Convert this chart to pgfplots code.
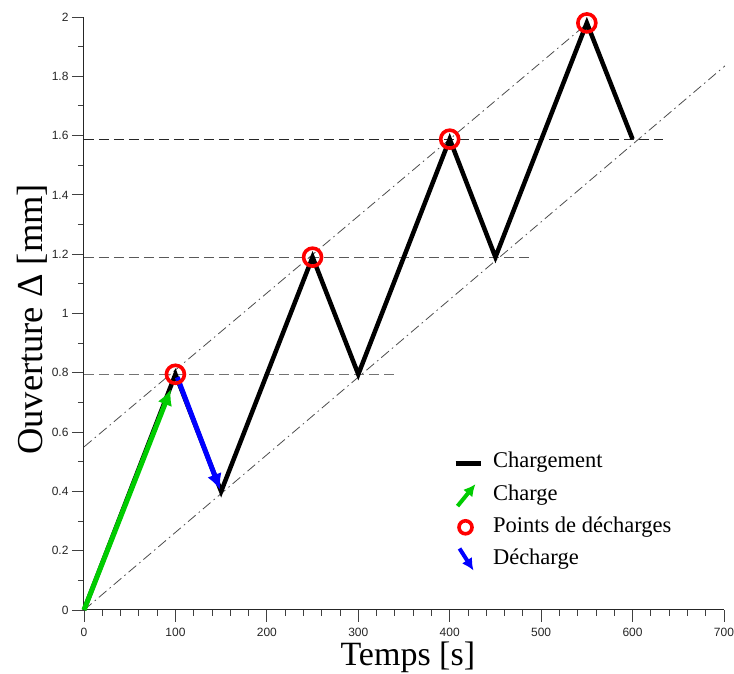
\documentclass[border=0pt]{standalone}
\usepackage{fontspec}
\setmainfont{Liberation Serif}
\setsansfont{Liberation Sans}
\usepackage{pgfplots}
\pgfplotsset{compat=1.18}
\usetikzlibrary{arrows.meta}
\definecolor{cgreen}{RGB}{0,204,0}
\definecolor{cblue}{RGB}{0,0,255}
\definecolor{cred}{RGB}{255,0,0}
\begin{document}
\begin{tikzpicture}[x=1pt,y=1pt]
\path[use as bounding box] (-84,-64) rectangle (650,610);
\begin{axis}[
  scale only axis, width=640pt, height=593pt,
  xmin=0, xmax=700, ymin=0, ymax=2,
  axis x line=bottom, axis y line=left,
  axis line style={-, black!85, line width=1pt},
  xtick={0,100,...,700}, ytick={0,0.2,...,2.01},
  minor x tick num=4, minor y tick num=1,
  tick align=outside,
  major tick length=12pt, minor tick length=6pt,
  tick style={black!75, line width=0.9pt},
  /pgf/number format/assume math mode=true,
  ticklabel style={font=\sffamily\fontsize{12}{12}\selectfont, text=black!85},
  xticklabel style={yshift=-3pt},
  xlabel={Temps [s]}, ylabel={Ouverture Δ [mm]},
  xlabel style={font=\fontsize{34}{40}\selectfont, at={(axis description cs:0.506,-0.079)}, anchor=center},
  ylabel style={font=\fontsize{36.5}{40}\selectfont, at={(axis description cs:-0.081,0.49)}, anchor=center},
  clip=false,
  legend style={draw=none, fill=none, at={(axis description cs:0.5716,0.272)}, anchor=north west,
     font=\fontsize{22.5}{24}\selectfont, row sep=7.2pt, column sep=8pt,
     nodes={text height=15pt, text depth=5pt},
     legend cell align=left},
]
% guide lines
\addplot[forget plot, black!55, line width=1.1pt, dash pattern=on 10pt off 5pt] coordinates {(0,0.795) (343,0.795)};
\addplot[forget plot, black!65, line width=1.1pt, dash pattern=on 10pt off 5pt] coordinates {(0,1.188) (490,1.188)};
\addplot[forget plot, black!85, line width=1.1pt, dash pattern=on 10pt off 5pt] coordinates {(0,1.588) (633,1.588)};
\addplot[forget plot, black!70, line width=0.8pt, dash pattern=on 10pt off 4pt on 1.5pt off 4pt] coordinates {(0,0.55) (555,1.99)};
\addplot[forget plot, black!70, line width=0.8pt, dash pattern=on 10pt off 4pt on 1.5pt off 4pt] coordinates {(0,0) (701,1.835)};
% loading path
\addplot[black, line width=4.5pt, line join=miter, miter limit=3,
  legend image code/.code={\draw[black, line width=5pt] (-8pt,-1pt) -- (17pt,-1pt);}]
  coordinates {(0,0) (100,0.795) (150,0.40) (250,1.19) (300,0.795) (400,1.588) (450,1.19) (550,1.98) (600,1.588)};
\addlegendentry{Chargement}
% green arrow
\addplot[cgreen, line width=5pt, -{Latex[length=16pt,width=15pt]},
  legend image code/.code={\draw[cgreen, line width=4pt, -{Latex[length=12pt,width=12pt]}] (-6pt,-11pt) -- (12pt,11pt);}]
  coordinates {(0,0) (95,0.745)};
\addlegendentry{Charge}
% discharge points
\addplot[only marks, mark=o, mark size=9pt, mark options={cred, line width=3.6pt},
  legend image code/.code={\draw[cred, line width=3.6pt] (2pt,0pt) circle (6.5pt);}]
  coordinates {(100,0.795) (250,1.19) (400,1.588) (550,1.98)};
\addlegendentry{Points de d\'echarges}
% blue arrow
\addplot[cblue, line width=5pt, -{Latex[length=16pt,width=15pt]},
  legend image code/.code={\draw[cblue, line width=4pt, -{Latex[length=12pt,width=12pt]}] (-4pt,11pt) -- (10pt,-11pt);}]
  coordinates {(102,0.785) (149,0.405)};
\addlegendentry{D\'echarge}
\end{axis}
\end{tikzpicture}
\end{document}
